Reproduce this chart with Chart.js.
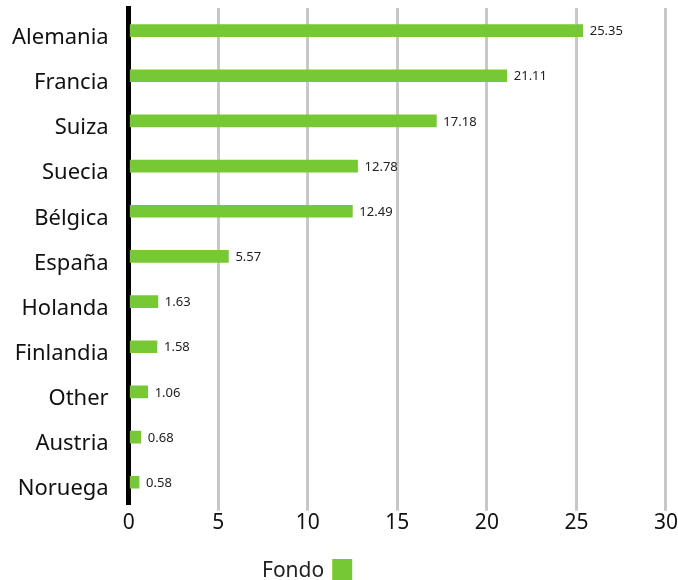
<!DOCTYPE html>
<html>
<head>
<meta charset="utf-8">
<script src="https://cdn.jsdelivr.net/npm/chart.js@4"></script>
<style>
  html, body { margin: 0; padding: 0; background: #fff; }
  #wrap { width: 678px; height: 580px; }
</style>
</head>
<body>
<div id="wrap"><canvas id="fondoChart"></canvas></div>
<script>
const COUNTRIES = ['Alemania', 'Francia', 'Suiza', 'Suecia', 'Bélgica', 'España', 'Holanda', 'Finlandia', 'Other', 'Austria', 'Noruega'];
const FONDO = [25.35, 21.11, 17.18, 12.78, 12.49, 5.57, 1.63, 1.58, 1.06, 0.68, 0.58];
const X_TICKS = [0, 5, 10, 15, 20, 25, 30];
const SERIES_NAME = 'Fondo';

const GREEN = '#76c835';
const FONT = '"Noto Sans", sans-serif';

// value text at the end of each bar
const valueLabels = {
    id: 'valueLabels',
    afterDatasetsDraw(chart) {
        const ctx = chart.ctx;
        const meta = chart.getDatasetMeta(0);
        ctx.save();
        ctx.font = '13px ' + FONT;
        ctx.fillStyle = '#222';
        ctx.textAlign = 'left';
        ctx.textBaseline = 'middle';
        meta.data.forEach(function (bar, i) {
            ctx.fillText(FONDO[i].toFixed(2), bar.x + 7, bar.y + 1);
        });
        ctx.restore();
    }
};

// legend with the box after the text
const sideLegend = {
    id: 'sideLegend',
    afterDraw(chart) {
        const ctx = chart.ctx;
        ctx.save();
        ctx.font = '21px ' + FONT;
        ctx.fillStyle = '#222';
        ctx.textAlign = 'left';
        ctx.textBaseline = 'middle';
        const x = 262;
        const y = 571;
        ctx.fillText(SERIES_NAME, x, y);
        const w = ctx.measureText(SERIES_NAME).width;
        ctx.fillStyle = GREEN;
        ctx.fillRect(x + w + 8, 559, 20, 21);
        ctx.restore();
    }
};

const data = {
    labels: COUNTRIES,
    datasets: [{
        label: SERIES_NAME,
        data: FONDO,
        backgroundColor: GREEN,
        barThickness: 12
    }]
};

const config = {
    type: 'bar',
    data: data,
    options: {
        indexAxis: 'y',
        responsive: true,
        maintainAspectRatio: false,
        animation: false,
        layout: { padding: { top: 8, right: 2, bottom: 44, left: 0 } },
        plugins: {
            legend: { display: false },
            tooltip: { enabled: false }
        },
        scales: {
            x: {
                min: 0,
                max: 30,
                afterBuildTicks: function (axis) {
                    axis.ticks = X_TICKS.map(function (v) { return { value: v }; });
                },
                grid: {
                    color: function (c) { return c.tick && c.tick.value === 0 ? 'rgba(0,0,0,0)' : '#c8c8c8'; },
                    lineWidth: 3,
                    tickLength: 6
                },
                border: { display: false },
                ticks: {
                    color: '#111',
                    font: { family: FONT, size: 21 },
                    padding: 0
                }
            },
            y: {
                afterFit: function (axis) {
                    axis.paddingTop = 0;
                    axis.paddingBottom = 0;
                },
                grid: { display: false },
                border: { display: true, color: '#000', width: 5 },
                ticks: {
                    color: '#111',
                    font: { family: FONT, size: 22 },
                    padding: 12,
                    labelOffset: 7
                }
            }
        }
    },
    plugins: [valueLabels, sideLegend]
};

const fondoChart = new Chart(
    document.getElementById('fondoChart'),
    config
);
</script>
</body>
</html>
